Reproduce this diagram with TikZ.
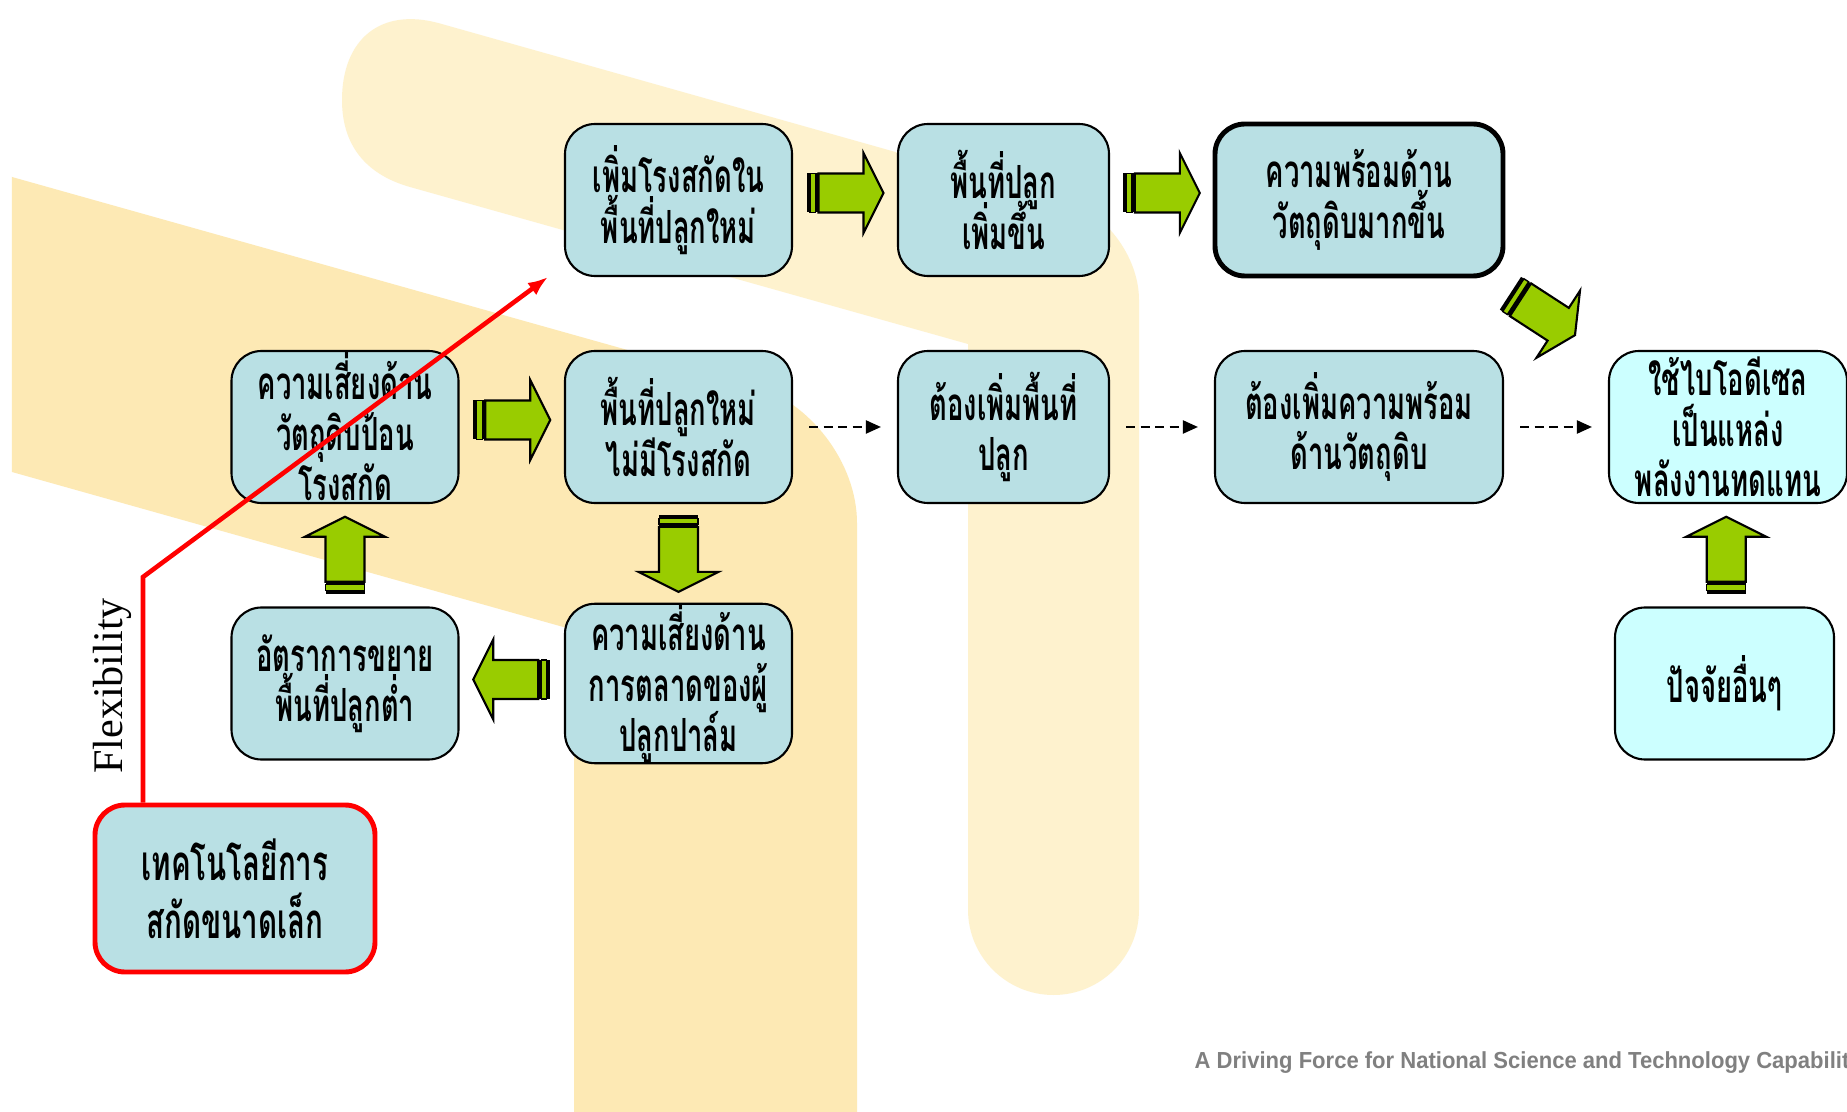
\documentclass[tikz,border=0pt]{standalone}
\usepackage{fontspec}
\setmainfont{Liberation Serif}
\newfontfamily\thaifont[Script=Thai,FakeStretch=0.6]{Loma}
\newfontfamily\footfont[FakeStretch=0.95]{Liberation Sans}
\usetikzlibrary{arrows.meta,calc}

\definecolor{boxblue}{RGB}{185,224,228}
\definecolor{boxcyan}{RGB}{204,255,255}
\definecolor{arrowgreen}{RGB}{153,204,0}
\definecolor{banddark}{RGB}{253,233,180}
\definecolor{bandlight}{RGB}{254,242,206}
\definecolor{footgray}{RGB}{128,128,128}

\newcommand{\boxfont}{\thaifont\bfseries\fontsize{13}{14.4}\selectfont\lineskiplimit=-50pt\relax}
\newcommand{\techfont}{\thaifont\bfseries\fontsize{14}{16.5}\selectfont\lineskiplimit=-50pt\relax}

\tikzset{
  box/.style={draw=black, line width=0.6pt, fill=boxblue, rounded corners=0.3cm,
    minimum width=2.27cm, minimum height=1.52cm, align=center, inner sep=0pt,
    font=\boxfont},
  widebox/.style={box, minimum width=2.88cm},
  midbox/.style={box, minimum width=2.11cm},
  goalbox/.style={box, fill=boxcyan},
  dashlink/.style={line width=0.6pt, dash pattern=on 0.09cm off 0.055cm,
    -{Triangle[length=0.15cm,width=0.13cm]}, shorten <=0.16cm, shorten >=0.16cm},
  flexline/.style={red, line width=1.3pt, -{Latex[length=0.2cm,width=0.15cm]}},
  fatarrow/.pic={
    \fill[black] (-0.385,-0.195) rectangle (-0.35,0.195);
    \filldraw[fill=arrowgreen, draw=black, line width=0.4pt] (-0.35,-0.195) rectangle (-0.295,0.195);
    \fill[black] (-0.295,-0.195) rectangle (-0.265,0.195);
    \filldraw[fill=arrowgreen, draw=black, line width=0.6pt] (-0.265,-0.195) -- (0.185,-0.195)
      -- (0.185,-0.40) -- (0.385,0) -- (0.185,0.40) -- (0.185,0.195) -- (-0.265,0.195) -- cycle;
  }
}

\begin{document}
\begin{tikzpicture}[x=1cm,y=-1cm]
\useasboundingbox (0,0) rectangle (18.47,11.12);
\fill[white] (0,0) rectangle (18.47,11.12);

% Background logo bands
\fill[banddark] (0.12,1.77) -- (7.52,3.85) .. controls (8.10,4.01) and (8.57,4.63) .. (8.57,5.23)
  -- (8.57,11.12) -- (5.74,11.12) -- (5.74,6.30) -- (0.12,4.72) -- cycle;
\fill[bandlight] (4.40,0.235) .. controls (3.80,0.066) and (3.42,0.40) .. (3.42,1.00)
  .. controls (3.42,1.50) and (3.71,1.76) .. (4.10,1.87) -- (9.68,3.44) -- (9.68,9.095)
  .. controls (9.68,9.567) and (10.063,9.95) .. (10.535,9.95)
  .. controls (11.007,9.95) and (11.39,9.567) .. (11.39,9.095) -- (11.39,3.00)
  .. controls (11.39,2.56) and (11.04,2.10) .. (10.62,1.99) -- cycle;

% Top row
\node[box] (newplant) at (6.785,2.00) {เพิ่มโรงสกัดใน\\พื้นที่ปลูกใหม่};
\node[midbox] (moreland) at (10.035,2.00) {พื้นที่ปลูก\\เพิ่มขึ้น};
\node[widebox, line width=1.4pt] (ready) at (13.59,2.00) {ความพร้อมด้าน\\วัตถุดิบมากขึ้น};

% Middle row
\node[box] (supplyrisk) at (3.45,4.27) {ความเสี่ยงด้าน\\วัตถุดิบป้อน\\โรงสกัด};
\node[box] (newland) at (6.785,4.27) {พื้นที่ปลูกใหม่\\ไม่มีโรงสกัด};
\node[midbox] (needland) at (10.035,4.27) {ต้องเพิ่มพื้นที่\\ปลูก};
\node[widebox] (needready) at (13.59,4.27) {ต้องเพิ่มความพร้อม\\ด้านวัตถุดิบ};
\node[goalbox, minimum width=2.38cm] (biodiesel) at (17.28,4.27) {ใช้ไบโอดีเซล\\เป็นแหล่ง\\พลังงานทดแทน};

% Bottom row
\node[box] (lowgrowth) at (3.45,6.835) {อัตราการขยาย\\พื้นที่ปลูกต่ำ};
\node[box] (marketrisk) at (6.785,6.835) {ความเสี่ยงด้าน\\การตลาดของผู้\\ปลูกปาล์ม};
\node[goalbox, minimum width=2.19cm] (others) at (17.245,6.835) {ปัจจัยอื่นๆ};

% Small extraction technology
\node[box, draw=red, line width=1.4pt, minimum width=2.80cm, minimum height=1.67cm,
  font=\techfont] (smalltech) at (2.35,8.885) {เทคโนโลยีการ\\สกัดขนาดเล็ก};

% Block arrows
\pic at ($(newplant.east)!0.5!(moreland.west)+(0,-0.07)$) {fatarrow};
\pic at ($(moreland.east)!0.5!(ready.west)+(0,-0.07)$) {fatarrow};
\pic[rotate=-33] at ($(ready.south east)!0.5!(biodiesel.north west)+(-0.14,0)$) {fatarrow};
\pic at ($(supplyrisk.east)!0.5!(newland.west)+(0,-0.07)$) {fatarrow};
\pic[rotate=90] at ($(lowgrowth.north)!0.5!(supplyrisk.south)$) {fatarrow};
\pic[rotate=-90] at ($(newland.south)!0.5!(marketrisk.north)$) {fatarrow};
\pic[rotate=180] at ($(marketrisk.west)!0.5!(lowgrowth.east)+(0,-0.04)$) {fatarrow};
\pic[rotate=90] at ($(others.north)!0.5!(biodiesel.south)$) {fatarrow};

% Dashed links
\draw[dashlink] (newland) -- (needland);
\draw[dashlink] (needland) -- (needready);
\draw[dashlink] (needready) -- (biodiesel);

% Flexibility path
\coordinate (flexbend) at (1.43,5.77);
\coordinate (flextip) at (5.48,2.77);
\draw[flexline] (smalltech.north -| flexbend) -- (flexbend) -- (flextip);
\node[rotate=90, font=\fontsize{12}{14}\selectfont] (flexlabel) at (1.12,6.86) {Flexibility};

% Footer
\node[anchor=west, text=footgray, inner sep=0pt, font=\footfont\bfseries\fontsize{6.6}{7.5}\selectfont]
  (footer) at (11.94,10.63) {A Driving Force for National Science and Technology Capabilit};
\end{tikzpicture}
\end{document}
